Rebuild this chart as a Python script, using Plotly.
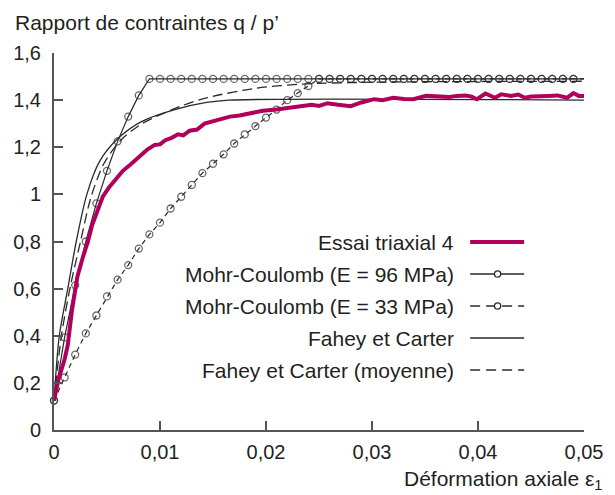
import plotly.graph_objects as go

# ---- data -------------------------------------------------------------
# Mohr-Coulomb model curves, sampled every 0.001 of axial strain
mc_strain = [0.000, 0.001, 0.002, 0.003, 0.004, 0.005, 0.006, 0.007, 0.008, 0.009,
             0.010, 0.011, 0.012, 0.013, 0.014, 0.015, 0.016, 0.017, 0.018, 0.019,
             0.020, 0.021, 0.022, 0.023, 0.024, 0.025, 0.026, 0.027, 0.028, 0.029,
             0.030, 0.031, 0.032, 0.033, 0.034, 0.035, 0.036, 0.037, 0.038, 0.039,
             0.040, 0.041, 0.042, 0.043, 0.044, 0.045, 0.046, 0.047, 0.048, 0.049,
             0.050]
mc96_ratio = [0.125, 0.393, 0.614, 0.800, 0.962, 1.100, 1.225, 1.330, 1.420, 1.490,
              1.490, 1.490, 1.490, 1.490, 1.490, 1.490, 1.490, 1.490, 1.490, 1.490,
              1.490, 1.490, 1.490, 1.490, 1.490, 1.490, 1.490, 1.490, 1.490, 1.490,
              1.490, 1.490, 1.490, 1.490, 1.490, 1.490, 1.490, 1.490, 1.490, 1.490,
              1.490, 1.490, 1.490, 1.490, 1.490, 1.490, 1.490, 1.490, 1.490, 1.490,
              1.490]
mc33_ratio = [0.125, 0.223, 0.320, 0.410, 0.486, 0.567, 0.638, 0.700, 0.770, 0.830,
              0.880, 0.940, 0.990, 1.040, 1.090, 1.130, 1.170, 1.216, 1.255, 1.290,
              1.326, 1.360, 1.400, 1.430, 1.460, 1.490, 1.490, 1.490, 1.490, 1.490,
              1.490, 1.490, 1.490, 1.490, 1.490, 1.490, 1.490, 1.490, 1.490, 1.490,
              1.490, 1.490, 1.490, 1.490, 1.490, 1.490, 1.490, 1.490, 1.490, 1.490,
              1.490]

# Fahey & Carter hyperbolic model
fc_strain = [0.0, 0.0005, 0.0013, 0.0021, 0.0031, 0.0043, 0.0061, 0.0083,
             0.0114, 0.0144, 0.0165, 0.050]
fc_ratio = [0.125, 0.40, 0.60, 0.80, 1.00, 1.14, 1.24, 1.31,
            1.36, 1.39, 1.40, 1.40]

# Fahey & Carter with averaged parameters
fcm_strain = [0.0, 0.0007, 0.0015, 0.0025, 0.0035, 0.0047, 0.0063, 0.0083,
              0.0120, 0.0144, 0.0190, 0.0234, 0.0300, 0.0400, 0.050]
fcm_ratio = [0.125, 0.40, 0.60, 0.80, 0.99, 1.13, 1.23, 1.30,
             1.375, 1.41, 1.45, 1.468, 1.476, 1.479, 1.48]

# Triaxial test no. 4 (measured)
test_strain = [0.0, 0.0004, 0.0010, 0.0013, 0.0017, 0.0020, 0.0022, 0.0027, 0.0032,
               0.0036, 0.0040, 0.0046, 0.0052, 0.0058, 0.0065, 0.0073, 0.0080, 0.0088,
               0.0095, 0.0100, 0.0105, 0.0111, 0.0117, 0.0122, 0.0128, 0.0135, 0.0142,
               0.0150, 0.0158, 0.0166, 0.0175, 0.0185, 0.0197, 0.0210, 0.0220, 0.0228,
               0.0236, 0.0243, 0.0250, 0.0258, 0.0268, 0.0280, 0.0290, 0.0302, 0.0310,
               0.0320, 0.0330, 0.0339, 0.0351, 0.0357, 0.0364, 0.0373, 0.0380, 0.0388,
               0.0394, 0.0399, 0.0407, 0.0416, 0.0422, 0.0431, 0.0438, 0.0444, 0.0450,
               0.0456, 0.0466, 0.0475, 0.0484, 0.0490, 0.0495, 0.0500]
test_ratio = [0.125, 0.21, 0.30, 0.36, 0.51, 0.60, 0.65, 0.73, 0.80,
              0.87, 0.92, 0.99, 1.03, 1.06, 1.10, 1.13, 1.16, 1.19,
              1.21, 1.212, 1.23, 1.24, 1.255, 1.25, 1.27, 1.275, 1.30,
              1.31, 1.32, 1.33, 1.335, 1.345, 1.355, 1.36, 1.365, 1.37,
              1.375, 1.38, 1.375, 1.387, 1.38, 1.374, 1.39, 1.404, 1.40,
              1.41, 1.405, 1.404, 1.418, 1.416, 1.415, 1.413, 1.418, 1.42,
              1.415, 1.404, 1.428, 1.41, 1.425, 1.418, 1.424, 1.41, 1.415,
              1.415, 1.418, 1.42, 1.41, 1.43, 1.418, 1.418]

x_ticks = [0, 0.01, 0.02, 0.03, 0.04, 0.05]
x_tick_text = ["0", "0,01", "0,02", "0,03", "0,04", "0,05"]
y_ticks = [0, 0.2, 0.4, 0.6, 0.8, 1.0, 1.2, 1.4, 1.6]
y_tick_text = ["0", "0,2", "0,4", "0,6", "0,8", "1", "1,2", "1,4", "1,6"]

legend_labels = ["Essai triaxial 4", "Mohr-Coulomb (E = 96 MPa)",
                 "Mohr-Coulomb (E = 33 MPa)", "Fahey et Carter",
                 "Fahey et Carter (moyenne)"]

# ---- styling ----------------------------------------------------------
FONT = "Liberation Sans, Arial, Helvetica, sans-serif"
TEXT = "#231f20"
INK = "#2a2a2a"
AXIS = "#555555"
MAGENTA = "#b0005c"

W, H = 615, 495
ML, MR, MT, MB = 54, 21, 53, 65
PW, PH = W - ML - MR, H - MT - MB


def px_x(px):
    return (px - ML) / PW


def px_y(py):
    return (H - MB - py) / PH


fig = go.Figure()

# marker on every sample except the final end point of the line
mc_marker_size = [7] * (len(mc_strain) - 1) + [0]

fig.add_trace(go.Scatter(
    x=fcm_strain, y=fcm_ratio, mode="lines",
    line=dict(color=INK, width=1.3, dash="10px,5px", shape="spline", smoothing=0.8),
    cliponaxis=False))
fig.add_trace(go.Scatter(
    x=fc_strain, y=fc_ratio, mode="lines",
    line=dict(color=INK, width=1.3, shape="spline", smoothing=0.8),
    cliponaxis=False))
fig.add_trace(go.Scatter(
    x=mc_strain, y=mc33_ratio, mode="lines+markers",
    line=dict(color=INK, width=1.2, dash="5px,4px"),
    marker=dict(symbol="circle-open", size=mc_marker_size, color=INK,
                line=dict(width=1.3, color=INK)),
    cliponaxis=False))
fig.add_trace(go.Scatter(
    x=mc_strain, y=mc96_ratio, mode="lines+markers",
    line=dict(color=INK, width=1.2),
    marker=dict(symbol="circle-open", size=mc_marker_size, color=INK,
                line=dict(width=1.3, color=INK)),
    cliponaxis=False))
fig.add_trace(go.Scatter(
    x=test_strain, y=test_ratio, mode="lines",
    line=dict(color=MAGENTA, width=4), cliponaxis=False))

# ---- custom legend: label on the left, sample on the right -------------
shapes = []
annotations = []
legend_rows_px = [242, 274, 306, 338, 370]
lx0, lx1, lmid = 478, 533, 506
r = 3.2
for i, (label, py) in enumerate(zip(legend_labels, legend_rows_px)):
    annotations.append(dict(
        x=px_x(464), y=px_y(py), xref="paper", yref="paper",
        text=label, showarrow=False, xanchor="right", yanchor="middle",
        font=dict(family=FONT, size=21, color=TEXT)))
    if i == 0:
        line = dict(color=MAGENTA, width=4)
    elif i in (2, 4):
        line = dict(color=INK, width=1.3, dash="10px,6px")
    else:
        line = dict(color=INK, width=1.3)
    shapes.append(dict(type="line", xref="paper", yref="paper",
                       x0=px_x(lx0), x1=px_x(lx1), y0=px_y(py), y1=px_y(py),
                       line=line))
    if i in (1, 2):
        shapes.append(dict(type="circle", xref="paper", yref="paper",
                           x0=px_x(lmid - r), x1=px_x(lmid + r),
                           y0=px_y(py + r), y1=px_y(py - r),
                           fillcolor="white", line=dict(color=INK, width=1.3)))

# axis titles
annotations.append(dict(
    x=px_x(12), y=px_y(23), xref="paper", yref="paper",
    text="Rapport de contraintes q / p\u2019", showarrow=False,
    xanchor="left", yanchor="middle",
    font=dict(family=FONT, size=21, color=TEXT)))
annotations.append(dict(
    x=px_x(614), y=px_y(480), xref="paper", yref="paper",
    text="D\u00e9formation axiale \u03b5<sub>1</sub>", showarrow=False,
    xanchor="right", yanchor="middle",
    font=dict(family=FONT, size=21, color=TEXT)))

axis_common = dict(
    showline=True, linecolor=AXIS, linewidth=2,
    ticks="inside", ticklen=9, tickwidth=2, tickcolor=AXIS,
    showgrid=False, zeroline=False,
    tickfont=dict(family=FONT, size=20, color=TEXT),
)

fig.update_layout(
    width=W, height=H,
    margin=dict(l=ML, r=MR, t=MT, b=MB),
    paper_bgcolor="white", plot_bgcolor="white",
    showlegend=False,
    xaxis=dict(range=[0, 0.05], tickvals=x_ticks, ticktext=x_tick_text,
               ticklabelstandoff=3, **axis_common),
    yaxis=dict(range=[0, 1.6], tickvals=y_ticks, ticktext=y_tick_text,
               ticklabelstandoff=7, **axis_common),
    shapes=shapes,
    annotations=annotations,
)

fig.write_html("out.html")
